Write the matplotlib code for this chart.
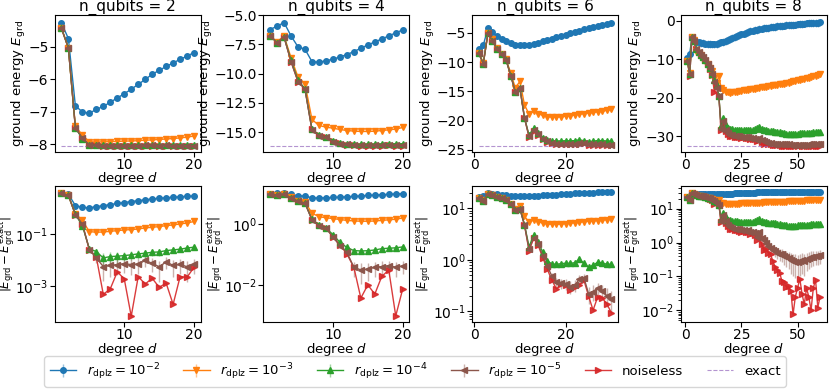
import numpy as np
import matplotlib.pyplot as plt
from matplotlib.colors import to_rgba

qubits = [2, 4, 6, 8]
series_labels = [r'$r_{\rm dplz} = 10^{-2}$', r'$r_{\rm dplz} = 10^{-3}$',
                 r'$r_{\rm dplz} = 10^{-4}$', r'$r_{\rm dplz} = 10^{-5}$', 'noiseless']

# exact ground energies
exact_n2 = -8.04
exact_n4 = -16.17
exact_n6 = -24.31
exact_n8 = -32.5

# |E_grd - E_exact| per degree d = 1, 2, ...
n2_r1e2 = [3.78, 3.30, 1.23, 1.04, 1.00, 1.12, 1.21, 1.34, 1.47, 1.60, 1.74, 1.89, 2.04, 2.20, 2.32, 2.44, 2.55, 2.66, 2.76, 2.87]
n2_r1e3 = [3.62, 3.01, 0.60, 0.33, 0.123, 0.116, 0.119, 0.126, 0.134, 0.142, 0.146, 0.155, 0.170, 0.180, 0.191, 0.208, 0.221, 0.241, 0.263, 0.30]
n2_r1e4 = [3.62, 3.01, 0.56, 0.21, 0.027, 0.021, 0.012, 0.0136, 0.014, 0.0148, 0.0158, 0.0172, 0.0183, 0.0198, 0.0204, 0.023, 0.0245, 0.026, 0.029, 0.031]
n2_r1e5 = [3.62, 3.01, 0.55, 0.24, 0.025, 0.012, 0.0056, 0.0062, 0.0067, 0.0072, 0.0067, 0.007, 0.0096, 0.0075, 0.0055, 0.0085, 0.0062, 0.0068, 0.0055, 0.0068]
n2_noiseless = [3.62, 3.01, 0.55, 0.24, 0.025, 0.013, 4.8e-4, 7.9e-4, 3.5e-3, 1.9e-3, 7e-5, 2.3e-3, 1.2e-3, 2.0e-3, 9e-4, 1.3e-3, 2e-4, 2.3e-3, 2.2e-3, 5.3e-3]

n4_r1e2 = [9.94, 10.23, 10.54, 9.40, 8.46, 8.26, 7.20, 7.14, 7.28, 7.40, 7.60, 7.80, 8.06, 8.34, 8.63, 8.88, 9.14, 9.40, 9.66, 9.91]
n4_r1e3 = [9.40, 8.88, 9.40, 7.54, 5.88, 5.31, 2.26, 1.74, 1.60, 1.51, 1.40, 1.31, 1.26, 1.23, 1.23, 1.25, 1.31, 1.37, 1.43, 1.57]
n4_r1e4 = [9.40, 8.83, 9.31, 7.31, 5.60, 4.88, 1.43, 0.94, 0.74, 0.45, 0.25, 0.17, 0.134, 0.13, 0.133, 0.14, 0.155, 0.16, 0.165, 0.177]
n4_r1e5 = [9.40, 8.83, 9.31, 7.20, 5.50, 4.85, 1.35, 0.88, 0.74, 0.37, 0.195, 0.118, 0.038, 0.031, 0.033, 0.038, 0.040, 0.043, 0.038, 0.042]
n4_noiseless = [9.40, 8.83, 9.31, 7.20, 5.50, 4.85, 1.40, 0.93, 0.74, 0.38, 0.21, 0.104, 0.038, 0.0037, 0.010, 0.005, 0.019, 0.031, 0.00096, 0.0074]

n6_r1e2 = [16.51, 17.20, 20.05, 19.37, 18.80, 18.22, 17.82, 17.48, 17.20, 17.14, 17.14, 17.20, 17.37, 17.60, 17.82,
           18.05, 18.28, 18.51, 18.74, 18.97, 19.20, 19.42, 19.65, 19.88, 20.11, 20.28, 20.51, 20.68, 20.85, 21.02]
n6_r1e3 = [15.88, 14.22, 19.2, 18.17, 16.62, 15.6, 14.74, 12.4, 9.9, 11.0, 7.0, 5.4, 5.9, 5.5, 5.2,
           5.0, 4.9, 4.9, 4.95, 5.05, 5.15, 5.25, 5.4, 5.5, 5.6, 5.7, 5.8, 5.9, 6.05, 6.2]
n6_r1e4 = [15.77, 14.05, 19.2, 17.9, 16.5, 15.6, 14.6, 12.0, 9.2, 9.9, 4.8, 1.8, 3.0, 2.2, 1.4,
           0.95, 0.83, 0.82, 0.84, 0.86, 0.85, 0.88, 1.02, 0.85, 0.72, 0.78, 0.9, 0.87, 0.82, 0.82]
n6_r1e5 = [15.77, 14.05, 19.2, 17.9, 16.5, 15.6, 14.6, 12.0, 9.2, 9.9, 4.8, 1.6, 2.7, 2.0, 1.2,
           0.75, 0.48, 0.37, 0.35, 0.34, 0.30, 0.32, 0.42, 0.45, 0.22, 0.24, 0.28, 0.25, 0.2, 0.17]
n6_noiseless = [15.77, 14.05, 19.2, 17.9, 16.5, 15.6, 14.6, 12.0, 9.2, 9.9, 4.7, 1.5, 2.6, 1.9, 1.1,
                0.65, 0.4, 0.27, 0.34, 0.32, 0.26, 0.3, 0.33, 0.4, 0.2, 0.105, 0.19, 0.18, 0.14, 0.093]

n8_r1e2 = [22.9, 23.8, 28.2, 27.3, 27.0, 26.9, 26.8, 26.7, 26.6, 26.5,
           26.45, 26.4, 26.4, 26.5, 26.7, 26.9, 27.1, 27.35, 27.6, 27.85,
           28.1, 28.35, 28.55, 28.8, 29.0, 29.2, 29.4, 29.6, 29.8, 30.0,
           30.1, 30.2, 30.35, 30.5, 30.6, 30.7, 30.75, 30.85, 30.9, 31.0,
           31.1, 31.15, 31.25, 31.3, 31.4, 31.45, 31.5, 31.5, 31.55, 31.6,
           31.65, 31.7, 31.8, 31.85, 31.9, 31.95, 32.0, 32.0, 32.05, 32.1]
n8_r1e3 = [22.1, 19.0, 28.3, 27.5, 24.8, 24.2, 23.6, 22.9, 22.0, 21.2,
           20.3, 19.5, 17.7, 16.4, 18.2, 15.0, 14.4, 14.1, 14.0, 13.8,
           13.9, 14.0, 14.1, 14.2, 14.3, 14.4, 14.5, 14.6, 14.7, 14.8,
           14.9, 15.0, 15.1, 15.2, 15.3, 15.4, 15.5, 15.6, 15.7, 15.8,
           15.9, 16.0, 16.1, 16.2, 16.3, 16.45, 16.6, 16.75, 16.9, 17.0,
           17.15, 17.3, 17.45, 17.6, 17.75, 17.9, 18.05, 18.2, 18.4, 18.6]
n8_r1e4 = [22.1, 18.6, 28.3, 27.2, 25.1, 24.5, 23.6, 23.0, 22.3, 21.2,
           20.2, 18.8, 17.0, 15.8, 12.9, 5.1, 7.3, 5.5, 4.7, 4.5,
           4.3, 4.2, 4.2, 4.1, 4.1, 4.1, 4.0, 4.0, 4.0, 4.1,
           4.3, 4.6, 5.0, 4.4, 4.1, 4.0, 3.9, 3.85, 3.75, 3.7,
           3.6, 3.5, 3.4, 3.3, 3.2, 3.15, 3.1, 3.1, 3.15, 3.2,
           3.25, 3.3, 3.35, 3.4, 3.4, 3.45, 3.5, 3.5, 3.55, 3.6]
n8_r1e5 = [22.1, 18.6, 28.3, 27.2, 25.1, 24.5, 23.6, 23.0, 22.3, 21.2,
           20.2, 18.6, 16.5, 15.0, 12.9, 4.3, 6.4, 4.2, 3.4, 2.9,
           2.7, 2.6, 2.5, 2.5, 2.4, 2.4, 2.2, 2.3, 2.0, 2.0,
           1.9, 1.5, 2.0, 1.4, 1.2, 1.0, 0.8, 0.7, 0.6, 0.55,
           0.5, 0.47, 0.45, 0.4, 0.37, 0.35, 0.3, 0.28, 0.27, 0.26,
           0.28, 0.3, 0.28, 0.32, 0.35, 0.37, 0.38, 0.4, 0.4, 0.42]
n8_noiseless = [22.1, 18.2, 28.3, 27.2, 25.1, 24.5, 23.6, 23.0, 22.3, 21.2,
                20.0, 18.3, 14.0, 15.5, 13.0, 4.0, 5.8, 3.8, 3.0, 2.6,
                2.5, 2.3, 2.3, 2.2, 2.1, 2.2, 2.0, 2.1, 1.8, 1.9,
                1.7, 1.2, 1.6, 0.9, 0.6, 0.65, 0.5, 0.45, 0.28, 0.19,
                0.15, 0.13, 0.075, 0.07, 0.05, 0.052, 0.038, 0.0075, 0.025, 0.045,
                0.085, 0.03, 0.015, 0.045, 0.025, 0.01, 0.045, 0.08, 0.012, 0.025]

# error bar half-widths for the four noisy runs
spread_n2 = [0.02, 0.015, 0.006, 0.004]
spread_n4 = [0.05, 0.05, 0.02, 0.02]
spread_n6 = [0.3, 0.3, 0.1, 0.08]
spread_n8 = [1.0, 0.6, 0.4, 0.18]

# axis ranges and ticks
energy_ylims = [(-8.22, -4.02), (-16.66, -5.0), (-25.3, -2.0), (-34.0, 1.5)]
energy_ticks = [[-8, -7, -6, -5], [-15.0, -12.5, -10.0, -7.5, -5.0], [-25, -20, -15, -10, -5], [-30, -20, -10, 0]]
error_ylims = [(10**-4.38, 10**0.85), (10**-3.22, 10**1.257), (10**-1.21, 10**1.44), (10**-2.35, 10**1.68)]
error_ticks = [[1e-3, 1e-1], [1e-2, 1e0], [1e-1, 1e0, 1e1], [1e-2, 1e-1, 1e0, 1e1]]
x_ticks = [[10, 20], [10, 20], [0, 20], [0, 25, 50]]

runs = {
    2: [n2_r1e2, n2_r1e3, n2_r1e4, n2_r1e5, n2_noiseless],
    4: [n4_r1e2, n4_r1e3, n4_r1e4, n4_r1e5, n4_noiseless],
    6: [n6_r1e2, n6_r1e3, n6_r1e4, n6_r1e5, n6_noiseless],
    8: [n8_r1e2, n8_r1e3, n8_r1e4, n8_r1e5, n8_noiseless],
}
exacts = {2: exact_n2, 4: exact_n4, 6: exact_n6, 8: exact_n8}
spreads = {2: spread_n2, 4: spread_n4, 6: spread_n6, 8: spread_n8}

colors = ['tab:blue', 'tab:orange', 'tab:green', 'tab:brown', 'tab:red']
markers = ['o', 'v', '^', '<', '>']

fig, axes = plt.subplots(2, 4, figsize=(8.3, 3.89), dpi=100)
fig.subplots_adjust(left=0.066, right=0.996, top=0.961, bottom=0.172, wspace=0.43, hspace=0.25)

legend_handles = []
for col, n in enumerate(qubits):
    ax_e, ax_r = axes[0, col], axes[1, col]
    exact = exacts[n]
    for k, err in enumerate(runs[n]):
        err = np.array(err)
        d = np.arange(1, len(err) + 1)
        energy = exact + err
        for ax, y in ((ax_e, energy), (ax_r, err)):
            if k < 4:
                h = ax.errorbar(d, y, yerr=spreads[n][k], color=colors[k], marker=markers[k], ms=4, lw=1,
                                ecolor=to_rgba(colors[k], 0.45), elinewidth=1)
            else:
                h, = ax.plot(d, y, color=colors[k], marker=markers[k], ms=4, lw=1, alpha=0.9)
            if col == 0 and ax is ax_e:
                legend_handles.append(h)
    h_exact, = ax_e.plot([1, len(runs[n][0])], [exact, exact], ls='--', color='tab:purple', lw=0.8, alpha=0.7)
    if col == 0:
        legend_handles.append(h_exact)

    ax_e.set_title(f'n_qubits = {n}', fontsize=11, pad=2)
    ax_e.set_ylim(*energy_ylims[col])
    ax_e.set_yticks(energy_ticks[col])
    ax_e.set_ylabel(r'ground energy $E_{\rm grd}$', fontsize=9.5, labelpad=0)

    ax_r.set_yscale('log')
    ax_r.set_ylim(*error_ylims[col])
    ax_r.set_yticks(error_ticks[col])
    ax_r.set_ylabel(r'$|E_{\rm grd} - E_{\rm grd}^{\rm exact}|$', fontsize=8.5, labelpad=-2)

    for ax in (ax_e, ax_r):
        ax.set_xticks(x_ticks[col])
        ax.set_xlabel(r'degree $d$', fontsize=9.5, labelpad=-1)
        ax.tick_params(labelsize=10, pad=1)

# keep the left-most log-axis label inside the figure
axes[1, 0].yaxis.set_label_coords(-0.25, 0.5)

fig.legend(legend_handles, series_labels + ['exact'], loc='lower center', bbox_to_anchor=(0.5, 0.0),
           ncol=6, fontsize=9.5, columnspacing=1.8, handlelength=2.0, borderpad=0.4, borderaxespad=0.15)

fig.savefig('out.png', dpi=100)
